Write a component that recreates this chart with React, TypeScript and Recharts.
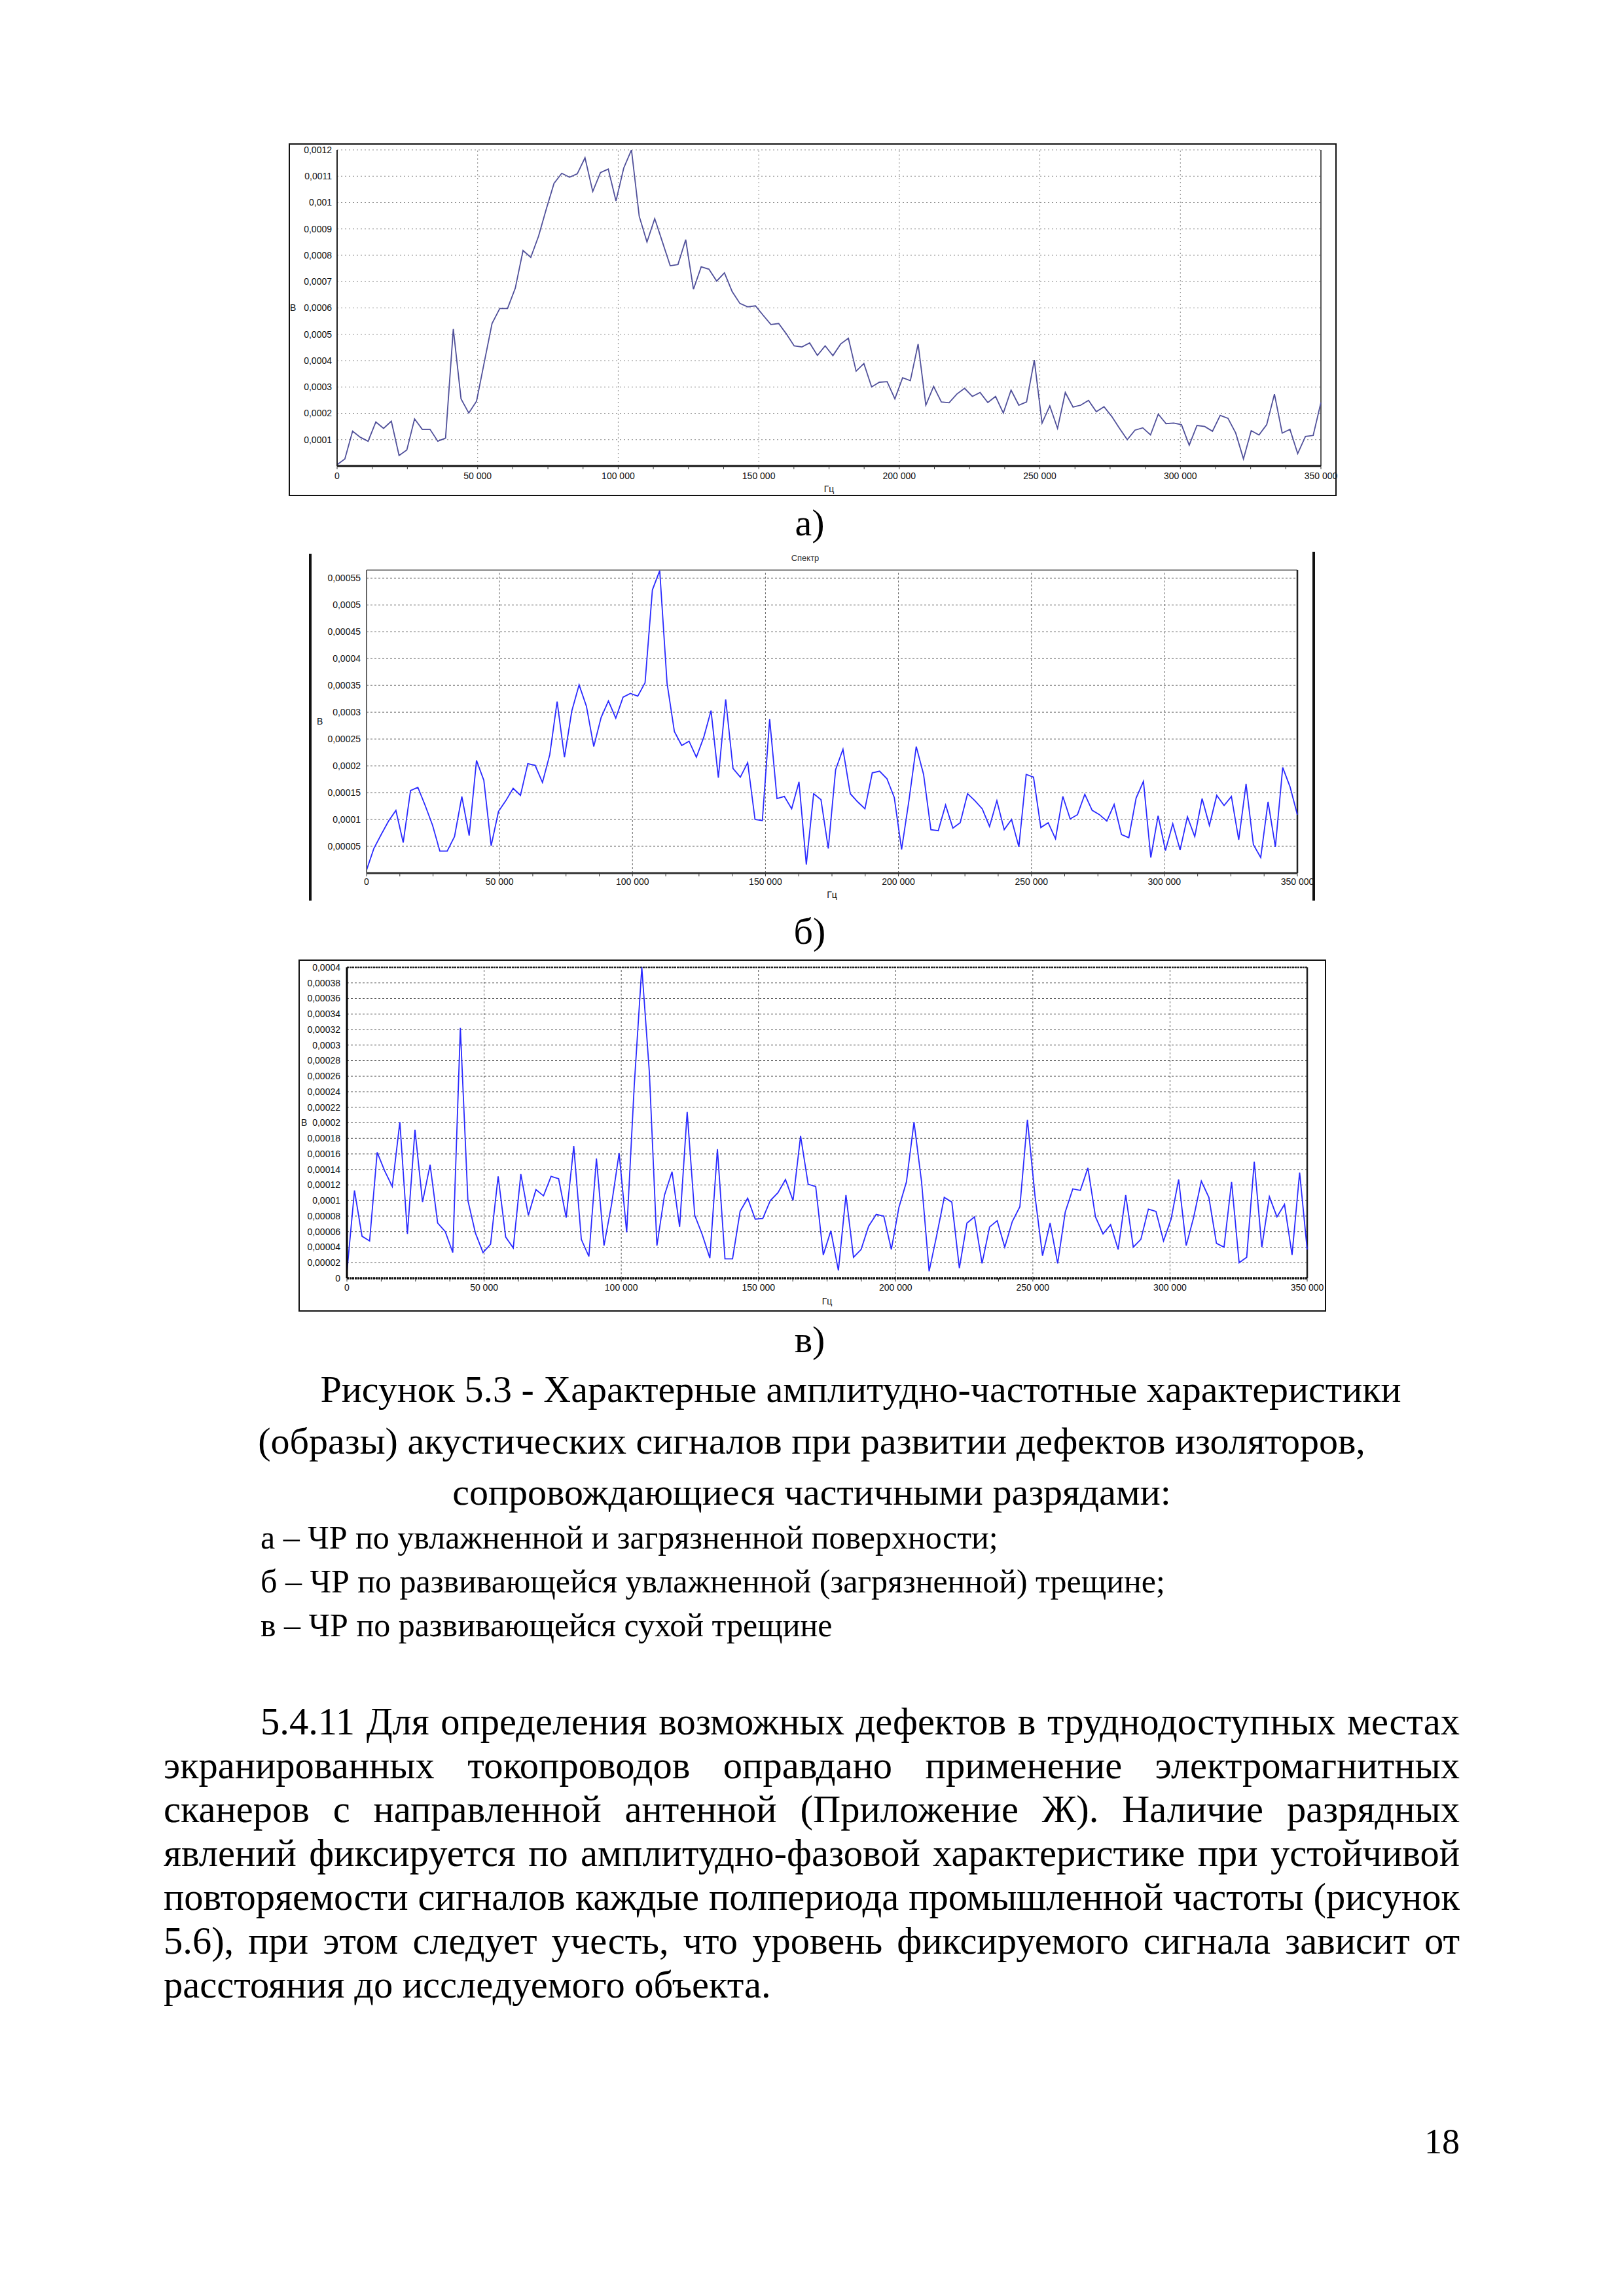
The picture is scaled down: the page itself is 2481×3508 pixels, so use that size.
import { LineChart, Line, XAxis, YAxis, CartesianGrid, ReferenceLine } from 'recharts';

// amplitude spectra, 128 points each over 0..350 kHz
// chart a values in units of 1e-4 V
const SPECTRUM_A = [
  0.05, 0.27, 1.32, 1.09, 0.94, 1.67, 1.43, 1.7, 0.4, 0.61, 1.79, 1.39, 1.39, 0.94, 1.06, 5.2,
  2.55, 2.01, 2.46, 3.94, 5.41, 5.98, 5.98, 6.75, 8.18, 7.92, 8.72, 9.75, 10.73, 11.11, 10.96, 11.09,
  11.7, 10.42, 11.14, 11.27, 10.06, 11.31, 12.0, 9.48, 8.5, 9.39, 8.5, 7.6, 7.65, 8.59, 6.71, 7.56,
  7.47, 7.02, 7.33, 6.62, 6.17, 6.04, 6.08, 5.72, 5.37, 5.41, 5.01, 4.56, 4.52, 4.67, 4.2, 4.56,
  4.19, 4.63, 4.85, 3.6, 3.89, 3.0, 3.18, 3.2, 2.55, 3.35, 3.24, 4.63, 2.31, 3.02, 2.43, 2.4,
  2.73, 2.95, 2.64, 2.79, 2.41, 2.64, 2.01, 2.88, 2.31, 2.43, 4.02, 1.63, 2.28, 1.43, 2.79, 2.24,
  2.31, 2.49, 2.06, 2.25, 1.88, 1.43, 1.0, 1.36, 1.45, 1.18, 1.97, 1.61, 1.63, 1.57, 0.79, 1.54,
  1.5, 1.32, 1.92, 1.81, 1.25, 0.27, 1.34, 1.18, 1.57, 2.73, 1.25, 1.39, 0.47, 1.12, 1.16, 2.41,
];

// charts b and c values in units of 1e-5 V
const SPECTRUM_B = [
  0.56, 4.6, 7.2, 9.7, 11.7, 5.7, 15.4, 16.0, 12.6, 8.95, 4.1, 4.1, 6.8, 14.3, 7.0, 21.0,
  17.3, 5.1, 11.5, 13.5, 15.8, 14.5, 20.4, 20.1, 16.9, 22.1, 32.0, 21.6, 30.2, 35.1, 31.1, 23.6,
  29.0, 32.1, 28.9, 32.8, 33.5, 33.0, 35.5, 52.8, 56.4, 35.4, 26.4, 23.8, 24.6, 21.6, 25.3, 30.3,
  17.8, 32.4, 19.5, 17.9, 20.6, 10.0, 9.8, 28.7, 13.9, 14.3, 12.0, 17.0, 1.6, 14.8, 13.7, 4.6,
  19.3, 23.1, 14.8, 13.3, 12.0, 18.7, 19.0, 17.6, 14.1, 4.4, 13.5, 23.6, 18.4, 8.1, 7.9, 12.7,
  8.4, 9.4, 14.8, 13.5, 12.0, 8.7, 13.5, 8.1, 10.0, 4.9, 18.4, 17.9, 8.5, 9.4, 6.4, 14.3,
  10.1, 10.9, 14.7, 11.7, 10.9, 9.7, 12.8, 7.2, 6.6, 14.0, 17.1, 2.9, 10.7, 4.2, 9.2, 4.3,
  10.5, 6.8, 13.9, 8.9, 14.5, 12.6, 14.3, 6.2, 16.6, 5.3, 2.9, 13.3, 4.9, 19.7, 16.1, 10.9,
];

const SPECTRUM_C = [
  0.8, 11.3, 5.4, 4.8, 16.2, 13.8, 11.8, 20.1, 5.7, 19.1, 9.8, 14.6, 7.1, 6.0, 3.3, 32.2,
  10.0, 5.8, 3.3, 4.4, 13.1, 5.3, 3.9, 13.4, 8.1, 11.4, 10.6, 13.1, 12.8, 7.8, 17.0, 5.0,
  2.8, 15.4, 4.2, 9.5, 16.1, 5.9, 24.8, 40.0, 26.5, 4.2, 10.7, 13.7, 6.6, 21.4, 8.1, 5.6,
  2.6, 16.6, 2.5, 2.5, 8.6, 10.3, 7.6, 7.7, 10.0, 11.0, 12.7, 10.0, 18.3, 12.1, 11.8, 3.0,
  6.1, 1.0, 10.7, 2.7, 3.7, 6.7, 8.2, 8.0, 3.7, 9.1, 12.4, 20.1, 12.4, 0.9, 5.5, 10.4,
  9.8, 1.3, 7.1, 7.9, 1.9, 6.6, 7.4, 4.0, 7.3, 9.2, 20.4, 10.6, 2.9, 7.1, 1.9, 8.5,
  11.5, 11.3, 14.2, 7.9, 5.7, 6.9, 3.7, 10.7, 4.0, 5.0, 8.9, 8.6, 4.8, 7.6, 12.7, 4.2,
  7.9, 12.5, 10.4, 4.5, 4.0, 12.4, 2.0, 2.7, 15.0, 4.0, 10.5, 7.9, 9.5, 3.0, 13.6, 3.7,
];

const FREQ_MAX = 350000;
const FREQ_TICKS = [0, 50000, 100000, 150000, 200000, 250000, 300000, 350000];
const FREQ_MINOR_TICKS = [
  0, 12500, 25000, 37500, 50000, 62500, 75000, 87500, 100000, 112500, 125000, 137500, 150000,
  162500, 175000, 187500, 200000, 212500, 225000, 237500, 250000, 262500, 275000, 287500,
  300000, 312500, 325000, 337500, 350000,
];

const A_Y_TICKS = [0.0001, 0.0002, 0.0003, 0.0004, 0.0005, 0.0006, 0.0007, 0.0008, 0.0009, 0.001, 0.0011, 0.0012];
const B_Y_TICKS = [0.00005, 0.0001, 0.00015, 0.0002, 0.00025, 0.0003, 0.00035, 0.0004, 0.00045, 0.0005, 0.00055];
const C_Y_TICKS = [
  0, 0.00002, 0.00004, 0.00006, 0.00008, 0.0001, 0.00012, 0.00014, 0.00016, 0.00018, 0.0002,
  0.00022, 0.00024, 0.00026, 0.00028, 0.0003, 0.00032, 0.00034, 0.00036, 0.00038, 0.0004,
];

const toSeries = (vals: number[], unit: number) =>
  vals.map((v, i) => ({ f: Math.round((i * FREQ_MAX) / (vals.length - 1)), v: v * unit }));

const fmtFreq = (v: number) =>
  v % 50000 === 0 ? String(v).replace(/\B(?=(\d{3})+(?!\d))/g, ' ') : '';
const fmtVolt = (v: number) =>
  v === 0 ? '0' : String(parseFloat(v.toPrecision(4))).replace('.', ',');

const SANS = '"Liberation Sans", Arial, sans-serif';
const SERIF = '"Liberation Serif", "Times New Roman", serif';

// extra room on the right so the last frequency label is not clipped by the svg
const PAD = 30;

const CHARTS = [
  {
    key: 'a',
    data: toSeries(SPECTRUM_A, 1e-4),
    left: 441, top: 219, width: 1601 + PAD, height: 539,
    margin: { top: 10, right: 24 + PAD, bottom: 16, left: 0 },
    yAxisWidth: 74, xAxisHeight: 30,
    yTicks: A_Y_TICKS, yMax: 0.0012,
    color: '#50509a',
    gridStroke: '#8a8a8a', gridDash: '2 4',
    yAxisLine: { stroke: '#222', strokeWidth: 2 },
    xAxisLine: { stroke: '#111', strokeWidth: 3 },
    topBorder: null as any,
    rightBorder: { stroke: '#555', strokeWidth: 2 },
    yLabelOffset: 2, xTickMargin: 5, yTickMargin: 2,
  },
  {
    key: 'b',
    data: toSeries(SPECTRUM_B, 1e-5),
    left: 476, top: 846, width: 1528 + PAD, height: 530,
    margin: { top: 25, right: 22 + PAD, bottom: 14, left: 0 },
    yAxisWidth: 84, xAxisHeight: 28,
    yTicks: B_Y_TICKS, yMax: 0.000565,
    color: '#2a2aff',
    gridStroke: '#666', gridDash: '3 3',
    yAxisLine: { stroke: '#666', strokeWidth: 2 },
    xAxisLine: { stroke: '#333', strokeWidth: 3 },
    topBorder: { stroke: '#888', strokeWidth: 2 },
    rightBorder: { stroke: '#222', strokeWidth: 2.5 },
    yLabelOffset: 8, xTickMargin: 3, yTickMargin: 3,
  },
  {
    key: 'c',
    data: toSeries(SPECTRUM_C, 1e-5),
    left: 458, top: 1468, width: 1566 + PAD, height: 534,
    margin: { top: 10, right: 27 + PAD, bottom: 19, left: 0 },
    yAxisWidth: 72, xAxisHeight: 30,
    yTicks: C_Y_TICKS, yMax: 0.0004,
    color: '#2a2aff',
    gridStroke: '#555', gridDash: '3 3',
    yAxisLine: { stroke: '#000', strokeWidth: 3 },
    xAxisLine: { stroke: '#111', strokeWidth: 3.5, strokeDasharray: '3 1' },
    topBorder: { stroke: '#222', strokeWidth: 2.5, strokeDasharray: '3 1' },
    rightBorder: { stroke: '#222', strokeWidth: 2.5 },
    yLabelOffset: 2, xTickMargin: 4, yTickMargin: 4,
  },
];

function Spectrum({ c }: { c: (typeof CHARTS)[number] }) {
  const tickStyle = { fill: '#111', fontSize: 14, fontFamily: SANS };
  return (
    <div style={{ position: 'absolute', left: c.left, top: c.top }}>
      <LineChart width={c.width} height={c.height} data={c.data} margin={c.margin}>
        <CartesianGrid vertical={false} stroke={c.gridStroke} strokeDasharray={c.gridDash} />
        {FREQ_TICKS.slice(1, -1).map((f) => (
          <ReferenceLine key={f} x={f} stroke={c.gridStroke} strokeDasharray={c.gridDash} />
        ))}
        {c.topBorder && <ReferenceLine y={c.yMax} {...c.topBorder} />}
        <ReferenceLine x={FREQ_MAX} {...c.rightBorder} />
        <XAxis
          type="number"
          dataKey="f"
          domain={[0, FREQ_MAX]}
          ticks={FREQ_MINOR_TICKS}
          interval={0}
          tickFormatter={fmtFreq}
          height={c.xAxisHeight}
          tickSize={5}
          tickMargin={c.xTickMargin}
          axisLine={c.xAxisLine}
          tickLine={{ stroke: '#333' }}
          tick={tickStyle}
          label={{ value: 'Гц', position: 'bottom', offset: 0, fill: '#111', fontSize: 14, fontFamily: SANS }}
        />
        <YAxis
          type="number"
          domain={[0, c.yMax]}
          allowDataOverflow
          ticks={c.yTicks}
          interval={0}
          tickFormatter={fmtVolt}
          width={c.yAxisWidth}
          tickLine={false}
          tickMargin={c.yTickMargin}
          axisLine={c.yAxisLine}
          tick={tickStyle}
          label={{ value: 'В', position: 'insideLeft', offset: c.yLabelOffset, fill: '#111', fontSize: 14, fontFamily: SANS }}
        />
        <Line
          type="linear"
          dataKey="v"
          stroke={c.color}
          strokeWidth={1.8}
          dot={false}
          isAnimationActive={false}
        />
      </LineChart>
    </div>
  );
}

const CAPTION_LINES = [
  'Рисунок 5.3 - Характерные амплитудно-частотные характеристики',
  '(образы) акустических сигналов при развитии дефектов изоляторов,',
  'сопровождающиеся частичными разрядами:',
];
const LEGEND_LINES = [
  'а – ЧР по увлажненной и загрязненной поверхности;',
  'б – ЧР по развивающейся увлажненной (загрязненной) трещине;',
  'в – ЧР по развивающейся сухой трещине',
];
const BODY_LINES = [
  '5.4.11 Для определения возможных дефектов в труднодоступных местах',
  'экранированных токопроводов оправдано применение электромагнитных',
  'сканеров с направленной антенной (Приложение Ж). Наличие разрядных',
  'явлений фиксируется по амплитудно-фазовой характеристике при устойчивой',
  'повторяемости сигналов каждые полпериода промышленной частоты (рисунок',
  '5.6), при этом следует учесть, что уровень фиксируемого сигнала зависит от',
  'расстояния до исследуемого объекта.',
];
const PANEL_LABELS = ['а)', 'б)', 'в)'];
const PANEL_LABEL_Y = [799, 1423, 2047];

const abs = (left: number, top: number, extra: any = {}) => ({ position: 'absolute' as const, left, top, ...extra });

export default function App() {
  return (
    <div style={{ position: 'absolute', left: 0, top: 0, width: 2481, height: 3508, background: '#fff', overflow: 'hidden', fontFamily: SERIF, color: '#000' }}>
      {/* frames around the scanned screenshots */}
      <div style={abs(441, 219, { width: 1601, height: 539, border: '2px solid #111', boxSizing: 'border-box' })} />
      <div style={abs(472, 846, { width: 4, height: 530, background: '#111' })} />
      <div style={abs(2005, 843, { width: 4, height: 533, background: '#111' })} />
      <div style={abs(456, 1466, { width: 1570, height: 538, border: '2px solid #111', boxSizing: 'border-box' })} />

      {CHARTS.map((c) => (
        <Spectrum key={c.key} c={c} />
      ))}

      <div style={abs(1190, 845, { width: 80, textAlign: 'center', fontFamily: SANS, fontSize: 13, color: '#333', lineHeight: '16px' })}>
        Спектр
      </div>

      {PANEL_LABELS.map((t, i) => (
        <div key={t} style={abs(1137, PANEL_LABEL_Y[i] - 34, { width: 200, textAlign: 'center', fontSize: 58, lineHeight: '67px' })}>
          {t}
        </div>
      ))}

      {CAPTION_LINES.map((t, i) => (
        <div key={i} style={abs(250, 2123 + i * 78.5 - 34, { width: 1980, textAlign: 'center', fontSize: 58, lineHeight: '67px', paddingLeft: i === 0 ? 150 : 0, boxSizing: 'border-box', whiteSpace: 'nowrap' })}>
          {t}
        </div>
      ))}

      {LEGEND_LINES.map((t, i) => (
        <div key={i} style={abs(398, 2349 + i * 67 - 30, { fontSize: 50, lineHeight: '60px', whiteSpace: 'nowrap' })}>
          {t}
        </div>
      ))}

      {BODY_LINES.map((t, i) => {
        const last = i === BODY_LINES.length - 1;
        return (
          <div key={i} style={abs(i === 0 ? 398 : 250, 2631 + i * 67 - 34, { width: i === 0 ? 1832 : 1980, fontSize: 58.5, lineHeight: '67px', textAlign: last ? 'left' : 'justify', textAlignLast: last ? 'left' : 'justify', whiteSpace: 'nowrap' })}>
            {t}
          </div>
        );
      })}

      <div style={abs(2080, 3273 - 34, { width: 150, textAlign: 'right', fontSize: 54, lineHeight: '67px' })}>18</div>
    </div>
  );
}
